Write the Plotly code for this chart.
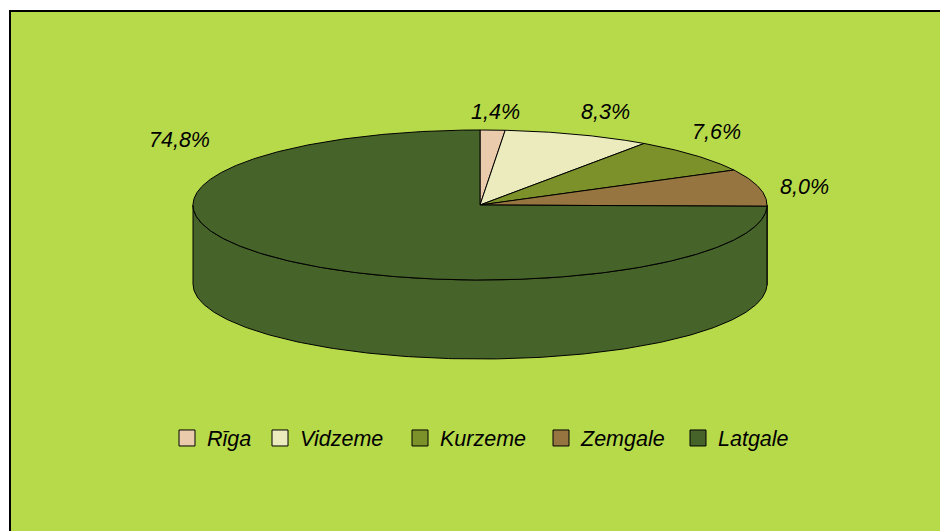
import numpy as np
import plotly.graph_objects as go

# ---- data ----
regions = ["Rīga", "Vidzeme", "Kurzeme", "Zemgale", "Latgale"]
shares = [1.4, 8.3, 7.6, 8.0, 74.8]
labels = ["1,4%", "8,3%", "7,6%", "8,0%", "74,8%"]

# ---- style ----
colors = ["#EACBAC", "#EBEBBE", "#7C912A", "#967541", "#46632A"]
bg = "#B7DA4B"
W, H = 940, 531
cx, cy, rx, ry, depth = 480, 205, 287, 75, 79
label_pos = [(495, 112), (605, 112), (716, 132), (804, 187), (179, 140)]
legend_box_x = [187, 280, 420, 561, 698]   # legend entry positions (px)
legend_y = 438
font_family = "Arial, Liberation Sans, sans-serif"
fsize = 21.5


def rim(theta_deg, dy=0.0):
    t = np.radians(theta_deg)
    return cx + rx * np.sin(t), cy - ry * np.cos(t) + dy


fig = go.Figure()

total = sum(shares)
bounds = np.concatenate([[0], np.cumsum(shares) / total * 360.0])

# side walls (visible front part: 90..270 deg clockwise from 12 o'clock)
for i in range(len(shares)):
    a0, a1 = max(bounds[i], 90.0), min(bounds[i + 1], 270.0)
    if a1 <= a0:
        continue
    th = np.linspace(a0, a1, 200)
    xt, yt = rim(th)
    xb, yb = rim(th[::-1], depth)
    fig.add_trace(go.Scatter(
        x=np.concatenate([xt, xb, xt[:1]]), y=np.concatenate([yt, yb, yt[:1]]),
        mode="lines", fill="toself", fillcolor=colors[i],
        line=dict(color="black", width=1), hoverinfo="skip", showlegend=False))

# top wedges
for i in range(len(shares)):
    th = np.linspace(bounds[i], bounds[i + 1], max(int((bounds[i + 1] - bounds[i]) * 2), 10))
    xr, yr = rim(th)
    fig.add_trace(go.Scatter(
        x=np.concatenate([[cx], xr, [cx]]), y=np.concatenate([[cy], yr, [cy]]),
        mode="lines", fill="toself", fillcolor=colors[i],
        line=dict(color="black", width=1), hoverinfo="text",
        text=f"{regions[i]}: {labels[i]}", showlegend=False))

# legend entries (one legend per entry for exact spacing)
legend_layout = {}
for k, (name, c) in enumerate(zip(regions, colors)):
    lname = "legend" if k == 0 else f"legend{k + 1}"
    fig.add_trace(go.Scatter(
        x=[None], y=[None], mode="markers", name=name, legend=lname,
        marker=dict(symbol="square", size=16, color=c, line=dict(color="black", width=1))))
    legend_layout[lname] = dict(
        orientation="h", x=(legend_box_x[k] - 20) / W, xanchor="left",
        y=1 - legend_y / H, yanchor="middle", bgcolor="rgba(0,0,0,0)",
        font=dict(family=font_family, size=fsize, color="black", style="italic"))

for (lx, ly), t in zip(label_pos, labels):
    fig.add_annotation(x=lx, y=ly, text=t, showarrow=False, xanchor="center", yanchor="middle",
                       font=dict(family=font_family, size=fsize, color="black", style="italic"))

fig.add_shape(type="rect", xref="paper", yref="paper", x0=10 / W, y0=1 - 11 / H, x1=1.05, y1=-0.05,
              fillcolor=bg, line=dict(color="black", width=2), layer="below")

fig.update_layout(
    width=W, height=H, margin=dict(l=0, r=0, t=0, b=0),
    paper_bgcolor="white", plot_bgcolor="rgba(0,0,0,0)",
    xaxis=dict(range=[0, W], visible=False, fixedrange=True),
    yaxis=dict(range=[H, 0], visible=False, fixedrange=True),
    showlegend=True,
    **legend_layout,
)

fig.write_html("out.html", config={"displayModeBar": False},
               post_script="document.body.style.margin='0';document.body.style.overflow='hidden';")
